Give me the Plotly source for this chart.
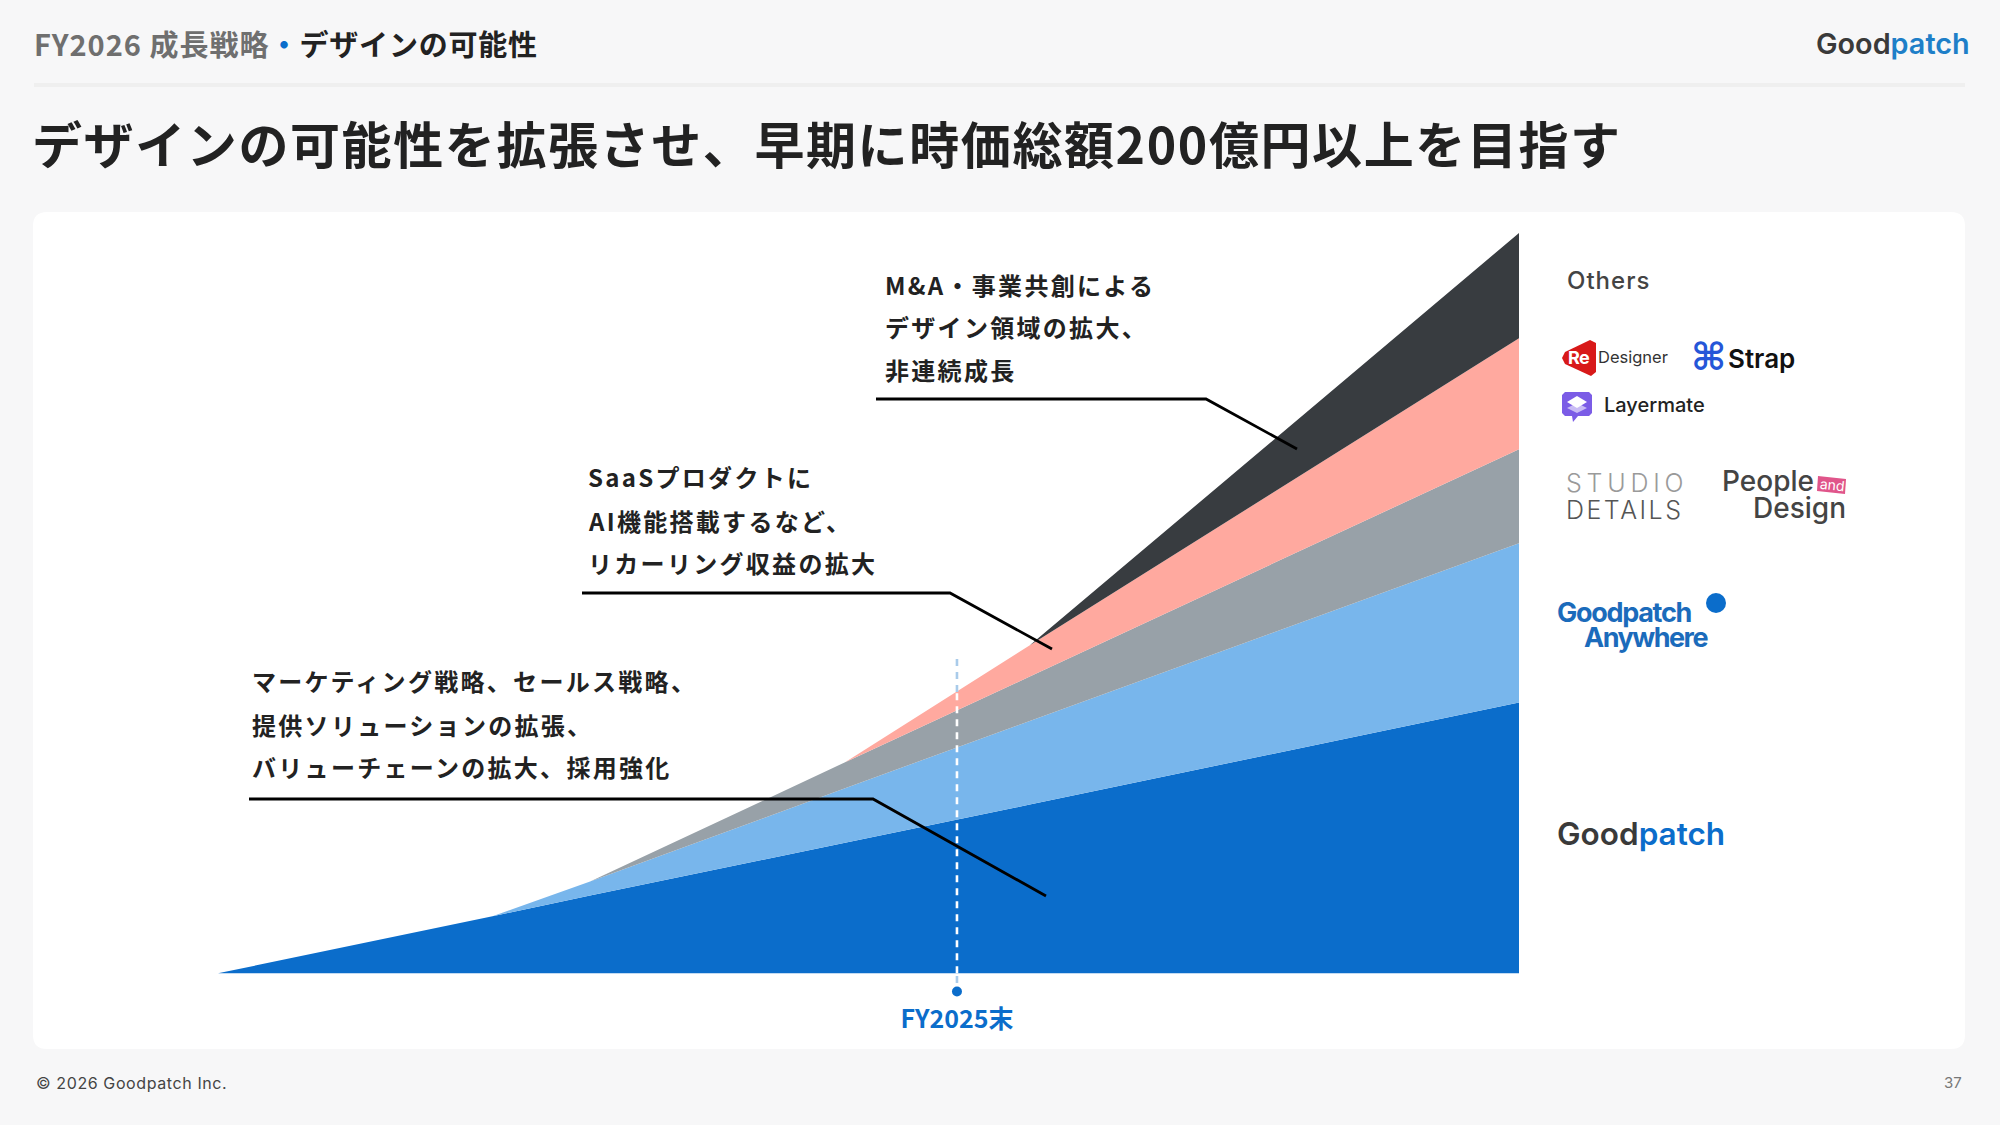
import plotly.graph_objects as go

W, H = 2000, 1125
CJK = "Noto Sans CJK JP"
LOGO = "Inter"

# ---- data ----
periods = [0, 21.1, 28.6, 48.2, 62.4, 100]
goodpatch = [0, 7.7, 10.5, 17.65, 22.8, 36.6]
anywhere = [0, 0, 1.9, 7.35, 11.3, 21.5]
studios = [0, 0, 0, 3.5, 6.0, 12.7]
saas = [0, 0, 0, 0, 4.2, 15.0]
others = [0, 0, 0, 0, 0, 14.2]
series_names = ["Goodpatch", "Goodpatch Anywhere", "Studio Details / People and Design", "SaaS", "Others"]
series_colors = ["#0B6DCB", "#78B6EC", "#98A1A8", "#FFA99F", "#383C40"]
fy_x = 56.8
fy_label = "FY2025末"
callout_a = ["M&A・事業共創による", "デザイン領域の拡大、", "非連続成長"]
callout_b = ["SaaSプロダクトに", "AI機能搭載するなど、", "リカーリング収益の拡大"]
callout_c = ["マーケティング戦略、セールス戦略、", "提供ソリューションの拡張、", "バリューチェーンの拡大、採用強化"]


def fx(p):
    return p / W


def fy(p):
    return 1 - p / H


def path(points):
    return "M " + " L ".join(f"{fx(x):.5f},{fy(y):.5f}" for x, y in points) + " Z"


fig = go.Figure()
for vals, name, col in zip([goodpatch, anywhere, studios, saas, others], series_names, series_colors):
    fig.add_trace(go.Scatter(x=periods, y=vals, name=name, mode="none", stackgroup="one",
                             fillcolor=col, hoverinfo="skip"))

# FY2025 marker
DASH = dict(width=2.6, dash="7px 6px")
fig.add_trace(go.Scatter(x=[fy_x, fy_x], y=[-1.3, 0], mode="lines", line=dict(color="#A9CBEA", **DASH)))
fig.add_trace(go.Scatter(x=[fy_x, fy_x], y=[0, 38], mode="lines", line=dict(color="#FFFFFF", **DASH)))
fig.add_trace(go.Scatter(x=[fy_x, fy_x], y=[38, 42.5], mode="lines", line=dict(color="#A9CBEA", **DASH)))
fig.add_trace(go.Scatter(x=[fy_x], y=[-2.45], mode="markers", marker=dict(color="#0B6DCB", size=10)))

shapes = []


def rect(x0, y0, x1, y1, color):
    shapes.append(dict(type="rect", xref="paper", yref="paper", x0=fx(x0), x1=fx(x1), y0=fy(y0), y1=fy(y1),
                       fillcolor=color, line_width=0, layer="below"))


# header rule
rect(34, 83, 1965, 87, "#EFEFEF")
# white panel (rounded)
r = 14
x0, x1, y0, y1 = fx(33), fx(1965), fy(212), fy(1049)
rx, ry = r / W, r / H
shapes.append(dict(type="path", xref="paper", yref="paper", layer="below", fillcolor="#FFFFFF", line_width=0,
                   path=f"M {x0 + rx},{y0} L {x1 - rx},{y0} Q {x1},{y0} {x1},{y0 - ry} L {x1},{y1 + ry} "
                        f"Q {x1},{y1} {x1 - rx},{y1} L {x0 + rx},{y1} Q {x0},{y1} {x0},{y1 + ry} "
                        f"L {x0},{y0 - ry} Q {x0},{y0} {x0 + rx},{y0} Z"))

# leader lines
for pts in [[(876, 399), (1206, 399), (1297, 449)],
            [(582, 593), (950, 593), (1052, 649)],
            [(249, 799), (873, 799), (1046, 896)]]:
    shapes.append(dict(type="path", xref="paper", yref="paper", layer="above",
                       line=dict(color="#000000", width=2.8),
                       path="M " + " L ".join(f"{fx(x):.5f},{fy(y):.5f}" for x, y in pts)))

# logo glyph shapes
shapes.append(dict(type="path", xref="paper", yref="paper", layer="above", fillcolor="#D81919", line_width=0,
                   path=path([(1562, 358), (1565, 352), (1590, 340), (1596, 343), (1596, 372), (1591, 376),
                              (1565, 364)])))
# Layermate icon
lm = [(1565, 392), (1589, 392), (1592, 395), (1592, 413), (1589, 416), (1578, 416), (1573, 422), (1572, 416),
      (1565, 416), (1562, 413), (1562, 395)]
shapes.append(dict(type="path", xref="paper", yref="paper", layer="above", fillcolor="#7B5CE6", line_width=0, path=path(lm)))
shapes.append(dict(type="path", xref="paper", yref="paper", layer="above", fillcolor="#C9BCF5", line_width=0,
                   path=path([(1567, 408), (1577, 403), (1587, 408), (1577, 413)])))
shapes.append(dict(type="path", xref="paper", yref="paper", layer="above", fillcolor="#FFFFFF", line_width=0,
                   path=path([(1567, 402), (1577, 396), (1587, 402), (1577, 408)])))
# "and" tag
shapes.append(dict(type="path", xref="paper", yref="paper", layer="above", fillcolor="#E0558A", line_width=0,
                   path=path([(1818, 476), (1846, 479), (1845, 494), (1817, 491)])))
# Anywhere dot
shapes.append(dict(type="circle", xref="paper", yref="paper", layer="above", fillcolor="#0B6DCB", line_width=0,
                   x0=fx(1706), x1=fx(1726), y0=fy(593), y1=fy(613)))

ann = []


def text(t, x, y, size, color, font=CJK, weight=400, anchor="left", angle=0, ls=None):
    if ls is not None:
        t = f'<span style="letter-spacing:{ls}px">{t}</span>'
    if anchor == "left":
        x -= 2
    y -= 2 if font == CJK else 0.5
    ann.append(dict(text=t, x=fx(x), y=fy(y), xref="paper", yref="paper", xanchor=anchor, yanchor="middle",
                    showarrow=False, textangle=angle, font=dict(family=font, size=size, color=color, weight=weight)))


text('<span style="color:#6F6F6F;letter-spacing:1px">FY2026 成長戦略</span>'
     '<span style="color:#0B6DCB;letter-spacing:1px">・</span>'
     '<span style="color:#222222;letter-spacing:0.8px">デザインの可能性</span>', 34, 45, 29, "#222222", weight=700)
text("デザインの可能性を拡張させ、早期に時価総額200億円以上を目指す", 32, 144, 50, "#222222", weight=700, ls=1.6)

for lines, x, ys in [(callout_a, 885, [286, 328, 371]),
                     (callout_b, 588, [479, 522, 564]),
                     (callout_c, 252, [683, 726, 768])]:
    for t, y in zip(lines, ys):
        text(t, x, y, 24, "#222222", weight=700, ls=2.3)

text("Others", 1567, 281, 24, "#444444", font=LOGO, weight=500, ls=1)
text("Re", 1579, 358, 18, "#FFFFFF", font=LOGO, weight=700, anchor="center", ls=-0.5)
text("Designer", 1598, 357, 16.5, "#333333", font=LOGO)
text("⌘", 1708, 358, 38, "#2556D8", font="DejaVu Sans", weight=700, anchor="center")
text("Strap", 1728, 359, 26, "#111111", font=LOGO, weight=600)
text("Layermate", 1604, 405, 20, "#222222", font=LOGO, weight=500)
text("STUDIO", 1566, 483, 25, "#9A9A9A", font=LOGO, weight=300, ls=4.8)
text("DETAILS", 1566, 510, 25, "#555555", font=LOGO, weight=300, ls=2.5)
text("People", 1722, 481, 28, "#444444", font=LOGO, weight=500)
text("and", 1832, 485, 14, "#FFFFFF", font=LOGO, anchor="center", angle=6)
text("Design", 1848, 508, 28, "#444444", font=LOGO, weight=500, anchor="right")
text("Goodpatch", 1557, 613, 27, "#1B6BBB", font=LOGO, weight=700, ls=-1.3)
text("Anywhere", 1710, 638, 27, "#1B6BBB", font=LOGO, weight=700, anchor="right", ls=-1.5)
logo = '<span style="color:#3A3A3A">Good</span><span style="color:{c}">patch</span>'
text(logo.format(c="#0B6DCB"), 1557, 834, 31.5, "#3A3A3A", font=LOGO, weight=600)
text(logo.format(c="#1E7FC8"), 1816, 44, 28.8, "#3A3A3A", font=LOGO, weight=600)
text("© 2026 Goodpatch Inc.", 36, 1083, 16, "#444444", font=LOGO, ls=0.6)
text("37", 1964, 1083, 15, "#777777", font=LOGO, anchor="right")

fig.update_layout(
    width=W, height=H, margin=dict(l=0, r=0, t=0, b=0), showlegend=False,
    paper_bgcolor="#F7F7F8", plot_bgcolor="rgba(0,0,0,0)", shapes=shapes, annotations=ann,
    xaxis=dict(domain=[218 / W, 1519 / W], range=[0, 100], showgrid=False, zeroline=False, showline=False,
               tickmode="array", tickvals=[fy_x], ticktext=[fy_label], ticks="", ticklabelstandoff=2,
               tickfont=dict(family=CJK, size=25, color="#0B6DCB", weight=700)),
    yaxis=dict(domain=[1 - 1000 / H, 1 - 233 / H], range=[-3.6, 100], showgrid=False, zeroline=False,
               showline=False, showticklabels=False, ticks=""),
)
fig.write_html("out.html", config={"displayModeBar": False},
               post_script="document.body.style.margin='0';document.body.style.background='#F7F7F8';")
